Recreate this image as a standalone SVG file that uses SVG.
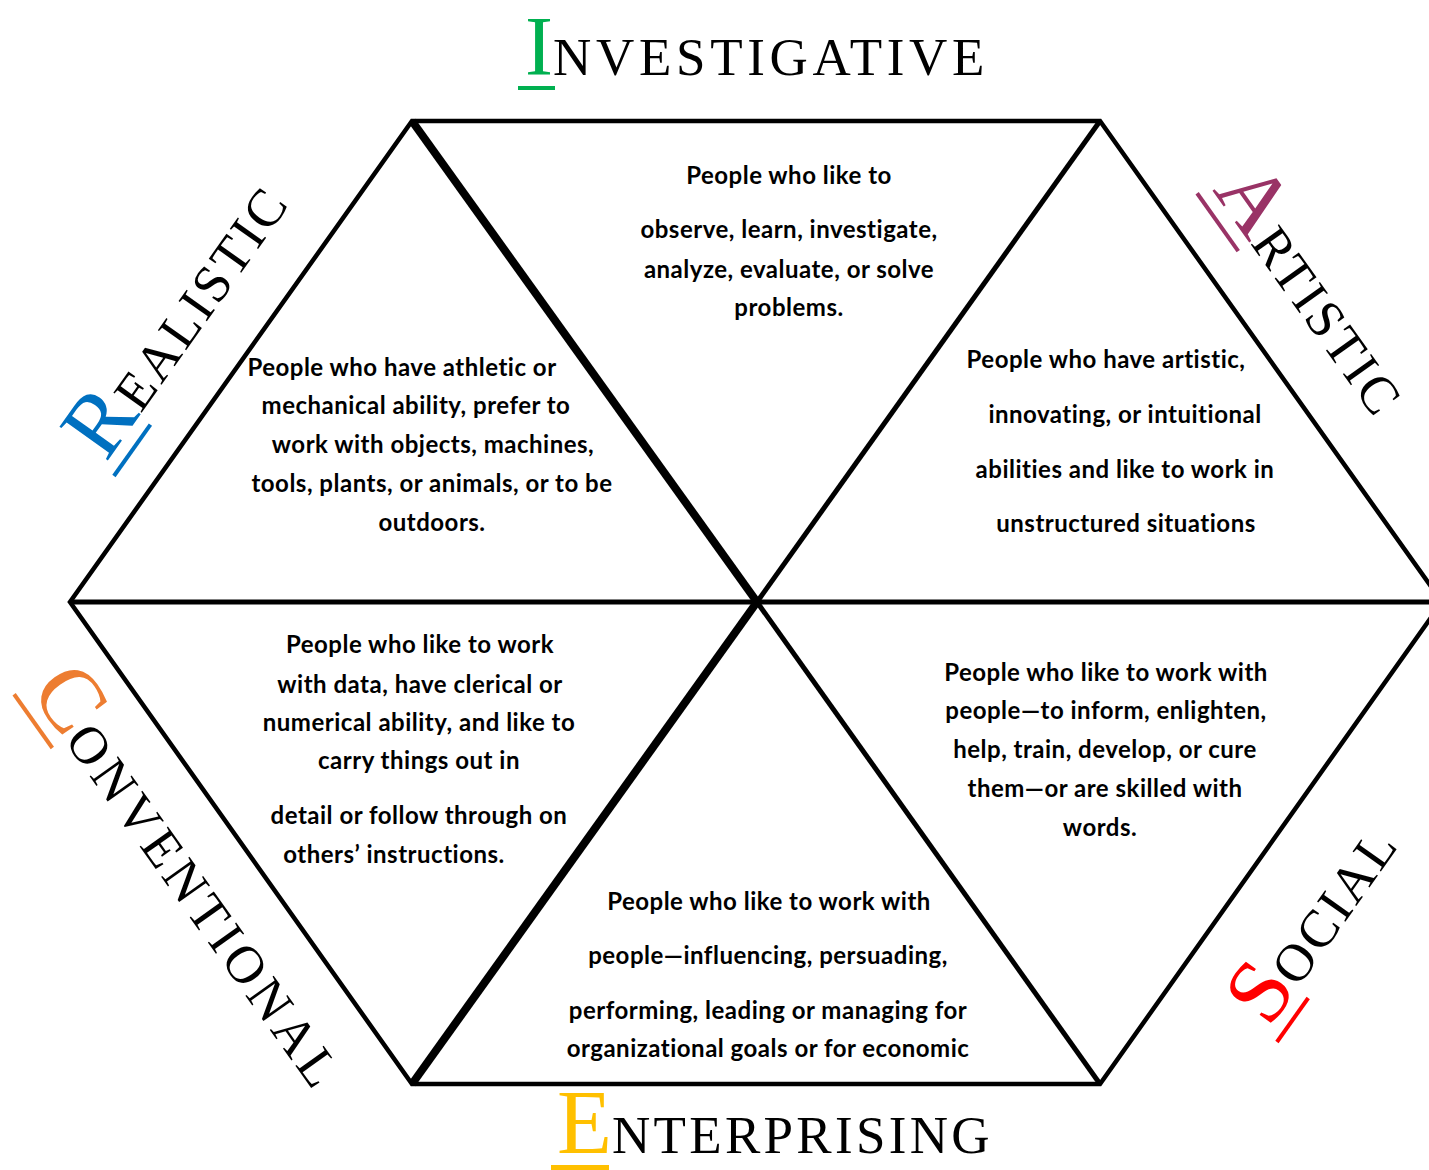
<svg xmlns="http://www.w3.org/2000/svg" width="1429" height="1170" viewBox="0 0 1429 1170">
<style>
.edge{stroke:#000;stroke-width:4.5;fill:none;stroke-linecap:round}
.spoke{stroke:#000;stroke-width:5;fill:none}
.thick{stroke:#000;stroke-width:8;fill:none}
.body{font-family:Lato,"Liberation Sans",sans-serif;font-weight:bold;font-size:24px;letter-spacing:0.5px;fill:#000;text-anchor:middle}
.head{font-family:"Liberation Serif","Times New Roman",serif;fill:#000}
.big{font-size:90px}
.small{font-size:53px;letter-spacing:3px}
</style>
<rect width="1429" height="1170" fill="#fff"/>
<g id="connectors">
<polygon class="edge" points="412,121 1100,121 1442,602 1100,1084 412,1084 70,602"/>
<line class="spoke" x1="70" y1="602" x2="1442" y2="602" stroke-width="6"/>
<line class="thick" x1="412" y1="121" x2="757" y2="602"/>
<line class="spoke" x1="757" y1="602" x2="1100" y2="1084"/>
<line class="spoke" x1="1100" y1="121" x2="757" y2="602"/>
<line class="thick" x1="757" y1="602" x2="412" y2="1084"/>
</g>
<g id="investigative">
<g class="head" transform="translate(525,75)">
<text><tspan class="big" style="font-size:84px" fill="#00B050">I</tspan><tspan class="small" style="letter-spacing:4.7px">NVESTIGATIVE</tspan></text>
<rect x="-7" y="11" width="37" height="4" fill="#00B050"/>
</g>
<text class="body"><tspan x="789" y="184">People who like to</tspan><tspan x="789" y="238">observe, learn, investigate,</tspan><tspan x="789" y="278">analyze, evaluate, or solve</tspan><tspan x="789" y="316">problems.</tspan></text>
</g>
<g id="realistic">
<g class="head" transform="translate(106,463) rotate(-54.6)">
<text><tspan class="big" fill="#0070C0">R</tspan><tspan class="small">EALISTIC</tspan></text>
<rect x="-6" y="12" width="63" height="4" fill="#0070C0"/>
</g>
<text class="body"><tspan x="402" y="376">People who have athletic or</tspan><tspan x="416" y="414">mechanical ability, prefer to</tspan><tspan x="433" y="453">work with objects, machines,</tspan><tspan x="432" y="492">tools, plants, or animals, or to be</tspan><tspan x="432" y="531">outdoors.</tspan></text>
</g>
<g id="artistic">
<g class="head" transform="translate(1212,190) rotate(54.6)">
<text><tspan class="big" fill="#993366">A</tspan><tspan class="small">RTISTIC</tspan></text>
<rect x="-6" y="12" width="71" height="4" fill="#993366"/>
</g>
<text class="body"><tspan x="1106" y="368">People who have artistic,</tspan><tspan x="1125" y="423">innovating, or intuitional</tspan><tspan x="1125" y="478">abilities and like to work in</tspan><tspan x="1126" y="532">unstructured situations</tspan></text>
</g>
<g id="conventional">
<g class="head" transform="translate(29,691) rotate(54.6)">
<text><tspan class="big" fill="#ED7D31">C</tspan><tspan class="small" style="letter-spacing:4.8px">ONVENTIONAL</tspan></text>
<rect x="-6" y="12" width="66" height="4" fill="#ED7D31"/>
</g>
<text class="body"><tspan x="420" y="653">People who like to work</tspan><tspan x="420" y="693">with data, have clerical or</tspan><tspan x="419" y="731">numerical ability, and like to</tspan><tspan x="419" y="769">carry things out in</tspan><tspan x="419" y="824">detail or follow through on</tspan><tspan x="394" y="863">others’ instructions.</tspan></text>
</g>
<g id="social">
<g class="head" transform="translate(1269,1029) rotate(-54.6)">
<text><tspan class="big" fill="#FF0000">S</tspan><tspan class="small">OCIAL</tspan></text>
<rect x="-6" y="12" width="54" height="4" fill="#FF0000"/>
</g>
<text class="body"><tspan x="1106" y="681">People who like to work with</tspan><tspan x="1106" y="719">people—to inform, enlighten,</tspan><tspan x="1105" y="758">help, train, develop, or cure</tspan><tspan x="1105" y="797">them—or are skilled with</tspan><tspan x="1100" y="836">words.</tspan></text>
</g>
<g id="enterprising">
<g class="head" transform="translate(557,1153)">
<text><tspan class="big" fill="#FFC000">E</tspan><tspan class="small" style="letter-spacing:3.3px">NTERPRISING</tspan></text>
<rect x="-6" y="12" width="58" height="5" fill="#FFC000"/>
</g>
<text class="body"><tspan x="769" y="910">People who like to work with</tspan><tspan x="768" y="964">people—influencing, persuading,</tspan><tspan x="768" y="1019">performing, leading or managing for</tspan><tspan x="768" y="1057">organizational goals or for economic</tspan></text>
</g>
</svg>
